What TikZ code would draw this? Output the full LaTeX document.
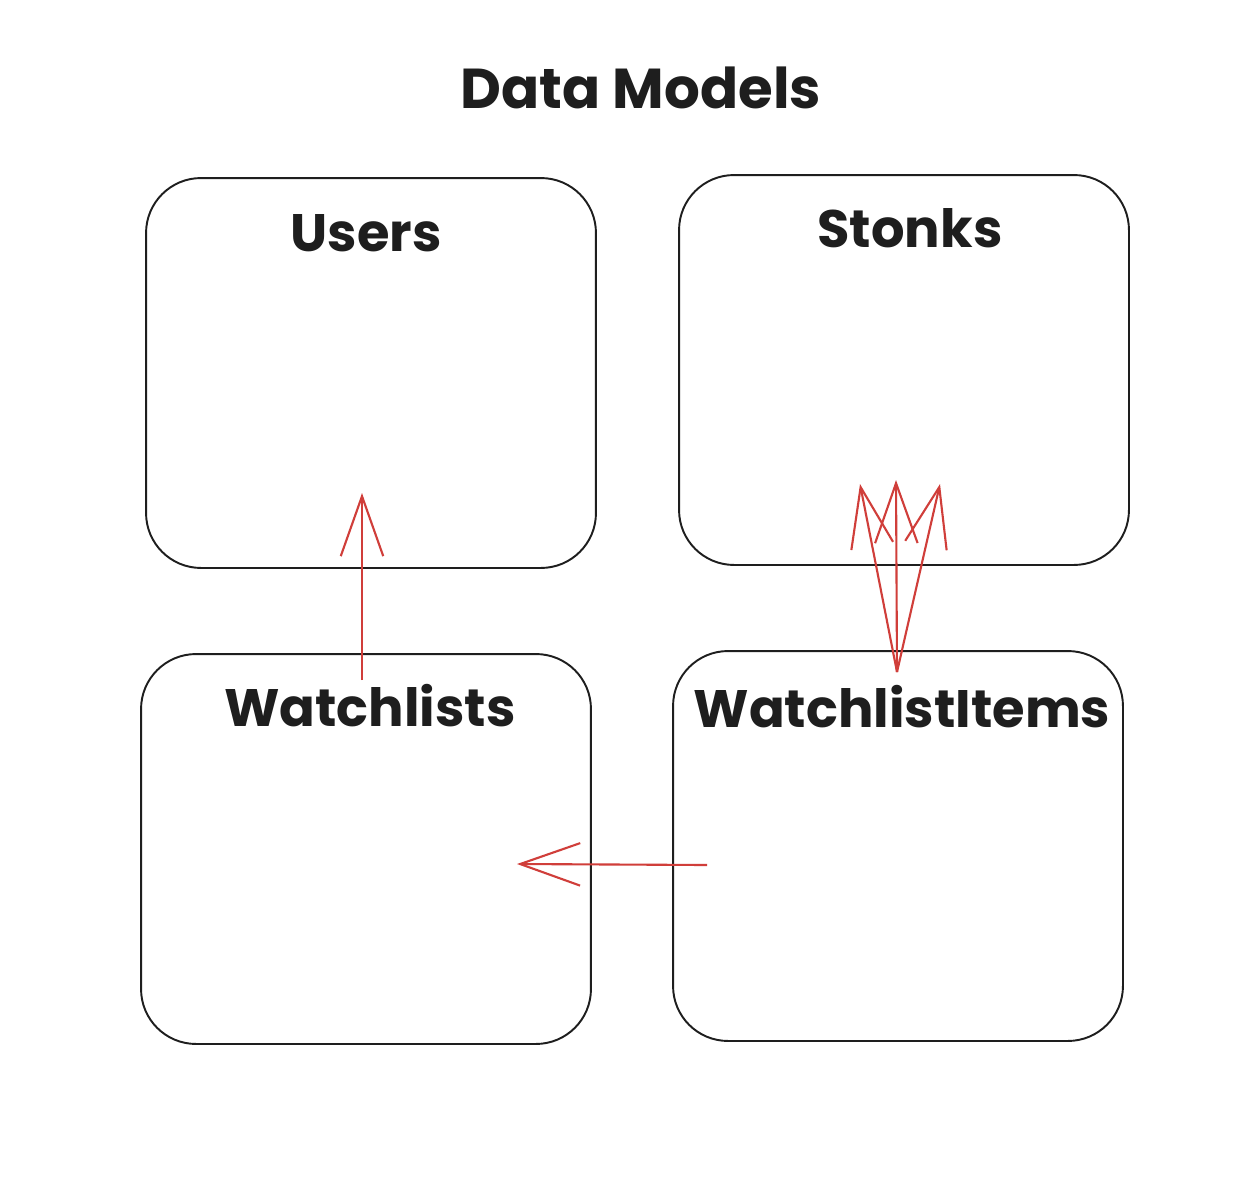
\documentclass[tikz,border=0pt]{standalone}
\usepackage{fontspec}
\setmainfont{Poppins}
\usetikzlibrary{arrows.meta}
\tikzset{>={Straight Barb[length=1.2cm,width=0.85cm]}}
\definecolor{LinkRed}{RGB}{208,62,58}
\definecolor{InkBlack}{RGB}{30,30,30}
\tikzset{
  model/.style={draw=InkBlack,line width=1.1pt,rounded corners=1.1cm,
    minimum width=9cm,minimum height=7.8cm,inner sep=0pt},
  modelname/.style={anchor=base,text=InkBlack,font=\fontsize{30}{32}\selectfont\bfseries},
  link/.style={->,draw=LinkRed,line width=1.2pt}
}

\begin{document}
\begin{tikzpicture}[x=0.02cm,y=-0.02cm]
		% page frame
		\useasboundingbox[fill=white] (0,0) rectangle (1260,1190);

		% title
		\node[anchor=base,text=InkBlack,font=\fontsize{32}{34}\selectfont\bfseries] (title) at (641,108) {Data Models};

		% model boxes
		\node[model] (users) at (371,373) {};
		\node[model] (stonks) at (904,370) {};
		\node[model] (watchlists) at (366,849) {};
		\node[model] (items) at (898,846) {};

		% model names
		\node[modelname] (usersName) at ([xshift=-0.1cm,yshift=-1.48cm]users.north) {Users};
		\node[modelname] (stonksName) at ([xshift=0.12cm,yshift=-1.46cm]stonks.north) {Stonks};
		\node[modelname] (watchlistsName) at ([xshift=0.08cm,yshift=-1.46cm]watchlists.north) {Watchlists};
		\node[modelname] (itemsName) at ([xshift=0.08cm,yshift=-1.54cm]items.north) {WatchlistItems};

		% link end points
		\coordinate (watchlistsTail) at (362,680);
		\coordinate (usersTip) at (362,493);
		\coordinate (itemsTail) at (897,672);
		\coordinate (stonksTipL) at (860,484);
		\coordinate (stonksTipM) at (896,480);
		\coordinate (stonksTipR) at (940,484);
		\coordinate (itemsLeft) at (707,865);
		\coordinate (watchlistsTip) at (517,864);

		% links
		\draw[link] (watchlistsTail) -- (usersTip);
		\draw[link] (itemsTail) -- (stonksTipL);
		\draw[link] (itemsTail) -- (stonksTipM);
		\draw[link] (itemsTail) -- (stonksTipR);
		\draw[link] (itemsLeft) -- (watchlistsTip);

	\end{tikzpicture}
\end{document}
